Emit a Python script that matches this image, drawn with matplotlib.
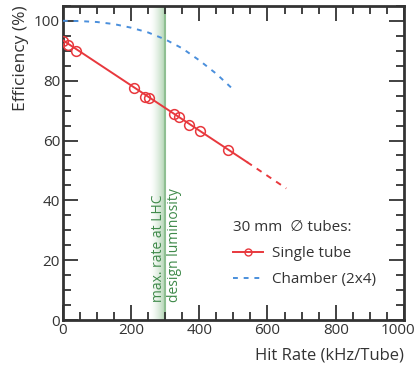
import numpy as np
import matplotlib.pyplot as plt
import matplotlib.transforms as mtransforms
from matplotlib.colors import LinearSegmentedColormap
from matplotlib.ticker import MultipleLocator

plt.rcParams['font.family'] = ['Open Sans', 'DejaVu Sans']

# single tube measurements
rate_tube = [1, 16, 38, 208, 241, 253, 326, 342, 370, 401, 484]
eff_tube = [93.4, 92.0, 89.8, 77.7, 74.6, 74.2, 68.8, 67.7, 65.1, 63.2, 57.0]

# single tube fit (solid) and extrapolation (dashed)
fit_x = [0, 540]
fit_y = [93.5, 52.8]
extra_x = [540, 655]
extra_y = [52.8, 44.0]

# chamber (2x4) efficiency
rate_ch = [0, 50, 100, 150, 200, 250, 300, 350, 400, 450, 500]
eff_ch = [100, 99.9, 99.6, 98.9, 97.7, 96.1, 93.8, 90.8, 86.8, 82.3, 77.0]

# LHC design luminosity band
band_lo, band_hi = 255, 300

red = '#e8383d'
blue = '#4a8fdc'
green = '#3f8a4a'
dark = '#333333'

fig = plt.figure(figsize=(4.19, 3.65), dpi=100)
ax = fig.add_axes([0.150, 0.123, 0.814, 0.861])

cmap = LinearSegmentedColormap.from_list('band', ['#ffffff', '#a9d0ab'])
grad = np.linspace(0, 1, 100).reshape(1, -1) ** 1.5
ax.imshow(grad, extent=[band_lo, band_hi, 0, 105], aspect='auto', cmap=cmap,
          origin='lower', zorder=0)
ax.axvline(band_hi, color='#8fbf92', lw=1.5, zorder=0.5)

ax.plot(fit_x, fit_y, color=red, lw=1.4, zorder=3)
ax.plot(extra_x, extra_y, color=red, lw=1.4, ls=(0, (3, 3)), zorder=3)
ax.plot(rate_tube, eff_tube, 'o', mfc='none', mec=red, ms=7, mew=1.1, zorder=4)
ax.plot(rate_ch, eff_ch, color=blue, lw=1.4, ls=(0, (2.5, 3)), zorder=3)

# legend handles
ax.plot([], [], color=red, lw=1.4, marker='o', mfc='none', mec=red, ms=5,
        label='Single tube')
ax.plot([], [], color=blue, lw=1.4, ls=(0, (2.5, 3)), label='Chamber (2x4)')
leg = ax.legend(title='30 mm  \u2205 tubes:', frameon=False, loc='lower left',
                bbox_to_anchor=(0.46, 0.06), fontsize=11, title_fontsize=11,
                handlelength=1.9, handletextpad=0.6, labelspacing=0.75)
leg._legend_box.align = 'left'
for t in leg.get_texts():
    t.set_color(dark)
leg.get_title().set_color(dark)

ax.text(280, 6, 'max. rate at LHC', rotation=90, color=green, fontsize=10,
        ha='center', va='bottom', zorder=5)
ax.text(326, 6, 'design luminosity', rotation=90, color=green, fontsize=10,
        ha='center', va='bottom', zorder=5)

ax.set_xlim(0, 1000)
ax.set_ylim(0, 105)
ax.xaxis.set_major_locator(MultipleLocator(200))
ax.xaxis.set_minor_locator(MultipleLocator(50))
ax.yaxis.set_major_locator(MultipleLocator(20))
ax.yaxis.set_minor_locator(MultipleLocator(5))
ax.tick_params(which='both', direction='in', top=True, right=True,
               colors=dark, labelsize=11, width=1.3)
ax.tick_params(which='major', length=11, pad=2)
ax.tick_params(which='minor', length=6)
for s in ax.spines.values():
    s.set_linewidth(2)
    s.set_color(dark)

ax.set_xlabel('Hit Rate (kHz/Tube)', fontsize=12, color=dark, loc='right',
              labelpad=7)
ax.set_ylabel('Efficiency (%)', fontsize=12.5, color=dark, loc='top')

# nudge the "1000" tick label so it stays inside the figure
fig.canvas.draw()
shift = mtransforms.ScaledTranslation(-4 / 72, 0, fig.dpi_scale_trans)
for tick in ax.xaxis.get_major_ticks():
    if abs(tick.get_loc() - 1000) < 1e-6:
        tick.label1.set_transform(tick.label1.get_transform() + shift)

fig.savefig('out.png', dpi=100)
